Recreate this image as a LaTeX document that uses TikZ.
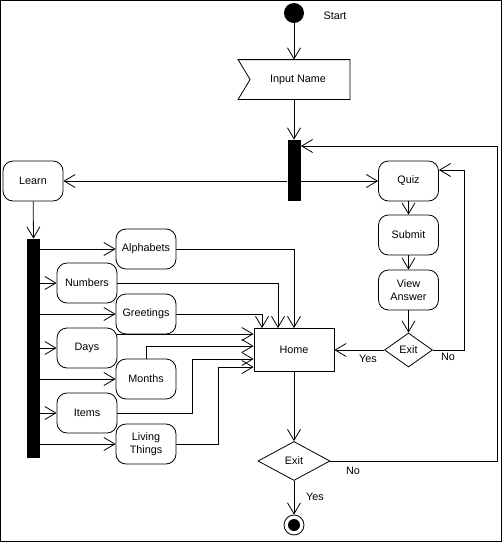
\documentclass[tikz,border=0pt]{standalone}
\usepackage{fontspec}
\setmainfont{Liberation Sans}
\usetikzlibrary{arrows.meta,shapes.geometric,positioning,calc}

\begin{document}
\begin{tikzpicture}[x=1pt,y=-1pt,
  font=\fontsize{10.8}{12.5}\selectfont,
  line width=0.8pt,
  flow/.style={-{Straight Barb[length=11pt,width=13pt]}},
  act/.style={draw,rounded corners=10pt,minimum width=60pt,minimum height=40pt,
    inner sep=1pt,align=center},
  bar/.style={fill=black,draw=none,minimum width=13pt,inner sep=0pt},
  cond/.style={draw,diamond,inner sep=0pt},
  txt/.style={inner sep=0pt}]

\useasboundingbox (0,0) rectangle (502,542);
\draw[line width=1.2pt] (0.6,0.6) rectangle (501.4,541.4);

% Step 1.
\node[circle,fill=black,minimum size=20pt,inner sep=0pt] (start) at (294,13) {};
\node[txt] (starttxt) at (335,16) {Start};
\node[minimum width=111pt,minimum height=39pt,inner sep=0pt] (input) at (294,79.5) {};
\draw (input.north west) -- (input.north east) -- (input.south east)
  -- (input.south west) -- ([xshift=12pt]input.west) -- cycle;
\node[txt] (inputtxt) at (298,80) {Input Name};
\draw[flow] (start) -- (input.north);

% Step 2.
\node[bar,minimum height=61pt] (fork) at (294,170.5) {};
\draw[flow] (input.south) -- (fork.north);

\node[act] (learn) at (33,181) {Learn};
\node[act] (quiz) at (408.5,181) {Quiz};
\draw[flow] (fork.west |- learn) -- (learn.east);
\draw[flow] (fork.east |- quiz) -- (quiz.west);

% Step 3.
\node[act] (submit) at (408.5,235) {Submit};
\node[act] (answer) at (408.5,290) {View\\Answer};
\node[cond,minimum width=48pt,minimum height=34pt] (exitq) at (408.5,350) {Exit};
\draw[flow] (quiz) -- (submit);
\draw[flow] (submit) -- (answer);
\draw[flow] (answer) -- (exitq);

\node[draw,minimum width=80pt,minimum height=43pt] (home) at (294,350) {Home};
\draw[flow] (exitq.west) -- (home.east);
\node[txt] (yesq) at (368,359) {Yes};
\draw[flow] (exitq.east) -- ++(31,0) |- ([yshift=11pt]quiz.east);
\node[txt] (noq) at (448,357) {No};

% Step 4.
\node[bar,minimum height=219pt] (split) at (33.5,348.5) {};
\draw[flow] (learn) -- (split.north);

\node[act] (alpha) at (146,249) {Alphabets};
\node[act] (num) at (87,283) {Numbers};
\node[act] (greet) at (146,314) {Greetings};
\node[act] (days) at (87,348) {Days};
\node[act] (months) at (146,379) {Months};
\node[act] (items) at (87,413) {Items};
\node[act] (living) at (146,444) {Living\\Things};

\foreach \n in {alpha,num,greet,days,months,items,living}
  \draw[flow] (split.east |- \n.west) -- (\n.west);

% Step 5.
\draw[flow] (alpha.east) -| (home.north);
\draw[flow] (num.east) -| ([xshift=-16pt]home.north);
\draw[flow] (greet.east) -| ([xshift=-32pt]home.north);
\draw[flow] ([yshift=14pt]days.east) -- ([yshift=16pt]home.west);
\draw[flow] (months.north) |- ([yshift=4pt]home.west);
\draw[flow] (items.east) -- ++(75,0) |- ([yshift=-9pt]home.west);
\draw[flow] (living.east) -- ++(42,0) |- ([yshift=-17pt]home.west);

% Step 6.
\node[cond,minimum width=72pt,minimum height=39pt] (exith) at (294,461) {Exit};
\draw[flow] (home.south) -- (exith.north);
\draw[flow] (exith.east) -- ++(167,0) |- ([yshift=24.5pt]fork.east);
\node[txt] (noh) at (353,471) {No};

\node[circle,draw,minimum size=20pt,inner sep=0pt,
  path picture={\fill (path picture bounding box.center) circle (6pt);}] (stop) at (294,525) {};
\draw[flow] (exith.south) -- (stop.north);
\node[txt] (yesh) at (315,497) {Yes};

\end{tikzpicture}
\end{document}
